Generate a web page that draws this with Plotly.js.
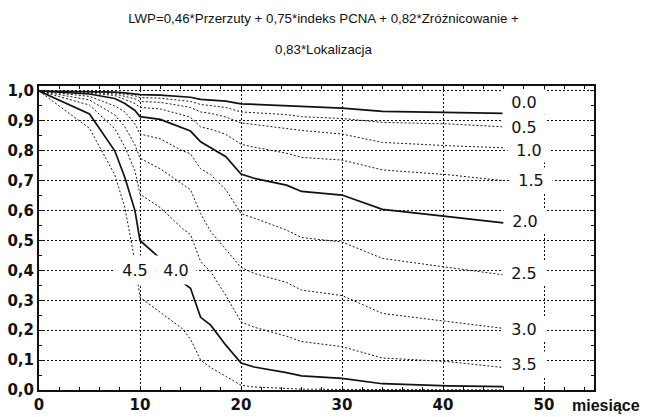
<!DOCTYPE html>
<html>
<head>
<meta charset="utf-8">
<script src="https://cdn.plot.ly/plotly-3.0.1.min.js"></script>
<style>html,body{margin:0;padding:0;background:#fff;}#chart{width:647px;height:417px;}</style>
</head>
<body>
<div id="chart"></div>
<script>
// ---- data ----
const months = [0, 5, 7.5, 8.5, 9.5, 10, 12, 14.2, 15, 16, 17, 18.5, 20, 21.3, 24.5, 26, 30, 34, 40.5, 46];
const lwpLevels = ['0.0', '0.5', '1.0', '1.5', '2.0', '2.5', '3.0', '3.5', '4.0', '4.5'];
const surv_00 = [1.0, 0.999, 0.996, 0.994, 0.99, 0.988, 0.986, 0.981, 0.979, 0.972, 0.97, 0.966, 0.957, 0.955, 0.951, 0.948, 0.943, 0.932, 0.929, 0.925];
const surv_05 = [1.0, 0.998, 0.994, 0.99, 0.984, 0.978, 0.976, 0.968, 0.965, 0.955, 0.952, 0.945, 0.93, 0.927, 0.921, 0.914, 0.908, 0.895, 0.89, 0.88];
const surv_10 = [1.0, 0.996, 0.99, 0.983, 0.974, 0.965, 0.962, 0.95, 0.945, 0.93, 0.925, 0.913, 0.893, 0.888, 0.875, 0.868, 0.856, 0.828, 0.817, 0.81];
const surv_15 = [1.0, 0.993, 0.985, 0.972, 0.958, 0.945, 0.94, 0.92, 0.912, 0.88, 0.872, 0.855, 0.822, 0.812, 0.792, 0.778, 0.769, 0.736, 0.72, 0.70];
const surv_20 = [1.0, 0.99, 0.975, 0.958, 0.935, 0.914, 0.905, 0.875, 0.866, 0.83, 0.811, 0.78, 0.722, 0.708, 0.685, 0.664, 0.652, 0.604, 0.58, 0.559];
const surv_25 = [1.0, 0.982, 0.95, 0.93, 0.89, 0.856, 0.84, 0.80, 0.79, 0.74, 0.72, 0.67, 0.59, 0.575, 0.535, 0.51, 0.495, 0.44, 0.41, 0.385];
const surv_30 = [1.0, 0.97, 0.92, 0.88, 0.82, 0.775, 0.74, 0.69, 0.67, 0.59, 0.53, 0.47, 0.41, 0.39, 0.36, 0.334, 0.316, 0.256, 0.23, 0.206];
const surv_35 = [1.0, 0.953, 0.874, 0.813, 0.733, 0.655, 0.61, 0.54, 0.52, 0.43, 0.395, 0.316, 0.228, 0.21, 0.18, 0.162, 0.145, 0.107, 0.095, 0.075];
const surv_40 = [1.0, 0.923, 0.80, 0.711, 0.60, 0.50, 0.44, 0.36, 0.34, 0.243, 0.217, 0.15, 0.09, 0.077, 0.058, 0.047, 0.039, 0.021, 0.014, 0.011];
const surv_45 = [1.0, 0.875, 0.72, 0.61, 0.43, 0.31, 0.26, 0.205, 0.17, 0.10, 0.075, 0.045, 0.016, 0.010, 0.005, 0.003, 0.002, 0.001, 0.0005, 0.0003];
const xTickVals = [0, 10, 20, 30, 40, 50];
const xTickText = ['0', '10', '20', '30', '40', '50'];
const yTickVals = [0, 0.1, 0.2, 0.3, 0.4, 0.5, 0.6, 0.7, 0.8, 0.9, 1.0];
const yTickText = ['0,0', '0,1', '0,2', '0,3', '0,4', '0,5', '0,6', '0,7', '0,8', '0,9', '1,0'];
const titleLine1 = 'LWP=0,46*Przerzuty + 0,75*indeks PCNA + 0,82*Zróżnicowanie +';
const titleLine2 = '0,83*Lokalizacja';
const xUnit = 'miesiące';

const series = [surv_00, surv_05, surv_10, surv_15, surv_20, surv_25, surv_30, surv_35, surv_40, surv_45];
const solidLevels = ['0.0', '2.0', '4.0'];

const traces = series.map((ys, i) => {
  const solid = solidLevels.includes(lwpLevels[i]);
  return {
    x: months, y: ys, type: 'scatter', mode: 'lines', name: 'LWP ' + lwpLevels[i],
    line: solid ? {color: '#111', width: 1.7} : {color: '#1a1a1a', width: 1, dash: '2px,2px'},
    hoverinfo: 'skip'
  };
});

// ---- layout helpers (positions only) ----
const plotL = 39, plotR = 594, plotT = 86, plotB = 390;
const px2paperX = px => (px - plotL) / (plotR - plotL);
const px2paperY = py => (plotB - py) / (plotB - plotT);

const titleFont = {family: 'Liberation Sans, Arial, sans-serif', size: 13.3, color: '#111'};
const labelFont = {family: 'DejaVu Sans, sans-serif', size: 16, color: '#111'};
const rightLabelY = {'0.0': 0.963, '0.5': 0.88, '1.0': 0.803, '1.5': 0.702, '2.0': 0.565, '2.5': 0.39, '3.0': 0.204, '3.5': 0.087};
const rightLabelX = {'0.0': 48.0, '0.5': 48.0, '1.0': 48.5, '1.5': 48.7, '2.0': 48.1, '2.5': 48.0, '3.0': 48.0, '3.5': 48.0};
const annotations = [];
Object.keys(rightLabelY).forEach(k => {
  annotations.push({x: rightLabelX[k], y: rightLabelY[k], xref: 'x', yref: 'y', text: k, showarrow: false,
    font: labelFont, bgcolor: '#fff', width: 40, height: 22, xanchor: 'center', yanchor: 'middle'});
});
annotations.push({x: 9.55, y: 0.403, xref: 'x', yref: 'y', text: '4.5', showarrow: false,
  font: labelFont, bgcolor: '#fff', width: 38, height: 26});
annotations.push({x: 13.6, y: 0.403, xref: 'x', yref: 'y', text: '4.0', showarrow: false,
  font: labelFont, bgcolor: '#fff', width: 38, height: 26});
annotations.push({x: px2paperX(606), y: px2paperY(405), xref: 'paper', yref: 'paper', text: xUnit, showarrow: false,
  font: {family: 'Liberation Sans, Arial, sans-serif', size: 16, color: '#111', weight: 'bold'}, xanchor: 'center', yanchor: 'middle'});
annotations.push({x: px2paperX(323.5), y: px2paperY(50), xref: 'paper', yref: 'paper', text: titleLine2, showarrow: false,
  font: titleFont, xanchor: 'center', yanchor: 'middle'});

const axisFont = {family: 'DejaVu Sans, sans-serif', size: 15, color: '#111', weight: 'bold'};

const layout = {
  width: 647, height: 417,
  margin: {l: plotL, r: 647 - plotR, t: plotT, b: 417 - plotB},
  paper_bgcolor: '#fff', plot_bgcolor: '#fff',
  showlegend: false,
  title: {text: titleLine1, x: 0.5, xref: 'container', y: 1 - 18 / 417, yref: 'container', yanchor: 'middle', xanchor: 'center',
    font: titleFont},
  xaxis: {range: [0, 54.95], tickvals: xTickVals, ticktext: xTickText, showgrid: true, gridcolor: '#111', griddash: '2px,2px', gridwidth: 1,
    zeroline: false, showline: true, linecolor: '#111', linewidth: 2, mirror: 'ticks', ticks: 'inside', ticklen: 4, tickcolor: '#111',
    minor: {dtick: 2, ticks: 'inside', ticklen: 3, tickcolor: '#111', showgrid: false}, tickfont: axisFont, fixedrange: true},
  yaxis: {range: [0, 1.0167], tickvals: yTickVals, ticktext: yTickText, showgrid: true, gridcolor: '#111', griddash: '2px,2px', gridwidth: 1,
    zeroline: false, showline: true, linecolor: '#111', linewidth: 2, mirror: 'ticks', ticks: 'inside', ticklen: 4, tickcolor: '#111',
    minor: {dtick: 0.05, ticks: 'inside', ticklen: 3, tickcolor: '#111', showgrid: false}, tickfont: axisFont, fixedrange: true},
  annotations: annotations
};

Plotly.newPlot('chart', traces, layout, {displayModeBar: false, staticPlot: true});
</script>
</body>
</html>
